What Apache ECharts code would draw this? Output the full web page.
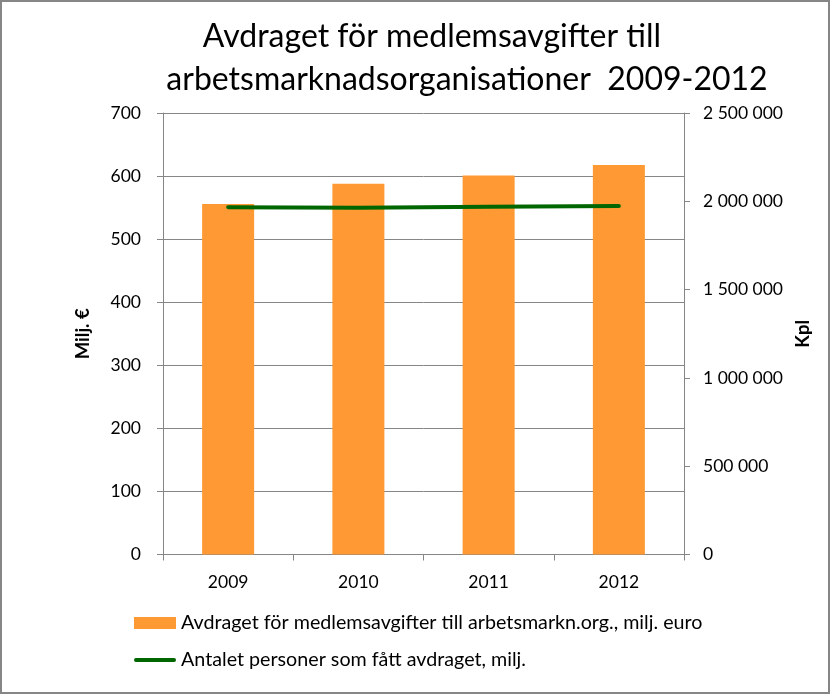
<!DOCTYPE html>
<html><head><meta charset="utf-8">
<script src="https://cdn.jsdelivr.net/npm/echarts@6/dist/echarts.min.js"></script>
<style>html,body{margin:0;padding:0;background:#fff}#c{width:830px;height:695px}</style>
</head><body><div id="c"></div>
<script>
var categories = ['2009', '2010', '2011', '2012'];
var deductionMEur = [555.6, 587.7, 600.8, 617.5];
var persons = [1967000, 1963000, 1969000, 1973000];
var leftTicks = [0, 100, 200, 300, 400, 500, 600, 700];
var rightTicks = [0, 500000, 1000000, 1500000, 2000000, 2500000];
var barName = 'Avdraget för medlemsavgifter till arbetsmarkn.org., milj. euro';
var lineName = 'Antalet personer som fått avdraget, milj.';
var titleLines = ['Avdraget för medlemsavgifter till', 'arbetsmarknadsorganisationer  2009-2012'];

var FONT = 'Lato';
var axisGray = '#868686';
function fmtSpace(v){ return String(v).replace(/\B(?=(\d{3})+(?!\d))/g, ' '); }

var titleStyle = {fontFamily: FONT, fontSize: 32, fontWeight: 'normal', color: '#000'};
var chart = echarts.init(document.getElementById('c'), null, {renderer:'canvas'});
chart.setOption({
  animation: false,
  backgroundColor: '#fff',
  title: [
    {text: titleLines[0], left: 432, top: 21, textAlign: 'center', textStyle: titleStyle, padding: 0},
    {text: titleLines[1], left: 467, top: 64, textAlign: 'center', textStyle: titleStyle, padding: 0}
  ],
  graphic: [{type:'rect', shape:{x:1, y:1, width:828, height:692}, style:{fill:'none', stroke:axisGray, lineWidth:2}, silent:true}],
  legend: {
    orient: 'vertical', left: 129, top: 608, itemGap: 17, itemWidth: 42, itemHeight: 12,
    textStyle: {fontFamily: FONT, fontSize: 19.7, color: '#000'},
    data: [
      {name: barName, icon: 'rect'},
      {name: lineName, icon: 'path://M2,0L40,0Q42,0 42,2Q42,4 40,4L2,4Q0,4 0,2Q0,0 2,0Z', itemStyle: {color: '#006600'}}
    ]
  },
  grid: {left: 163, right: 146, top: 113, bottom: 140.5, containLabel: false},
  xAxis: {
    type: 'category', data: categories,
    axisLine: {lineStyle: {color: axisGray, width: 1}},
    axisTick: {show: true, length: 6, lineStyle: {color: axisGray}},
    axisLabel: {fontFamily: FONT, fontSize: 17.5, color: '#000', margin: 19}
  },
  yAxis: [{
    type: 'value', min: 0, max: 700, interval: 100,
    name: 'Milj. €', nameLocation: 'middle', nameGap: 70, nameRotate: 90,
    nameTextStyle: {fontFamily: FONT, fontSize: 18.5, fontWeight: 'bold', color: '#000'},
    axisLine: {show: true, lineStyle: {color: axisGray}},
    axisTick: {show: true, length: 6, lineStyle: {color: axisGray}},
    axisLabel: {fontFamily: FONT, fontSize: 17.5, color: '#000', margin: 22},
    splitLine: {show: true, lineStyle: {color: axisGray, width: 1}}
  }, {
    type: 'value', min: 0, max: 2500000, interval: 500000, position: 'right',
    name: 'Kpl', nameLocation: 'middle', nameGap: 103, nameRotate: 90,
    nameTextStyle: {fontFamily: FONT, fontSize: 18.5, fontWeight: 'bold', color: '#000'},
    axisLine: {show: true, lineStyle: {color: axisGray}},
    axisTick: {show: true, length: 6, lineStyle: {color: axisGray}},
    axisLabel: {fontFamily: FONT, fontSize: 17.5, color: '#000', margin: 19, formatter: fmtSpace},
    splitLine: {show: false}
  }],
  series: [{
    name: barName, type: 'bar', data: deductionMEur, yAxisIndex: 0,
    barWidth: 52, itemStyle: {color: '#ff9933'}
  }, {
    name: lineName, type: 'line', data: persons, yAxisIndex: 1,
    symbol: 'none', lineStyle: {color: '#006600', width: 4, cap: 'round'}, itemStyle: {color: '#006600'}
  }]
});
</script></body></html>
